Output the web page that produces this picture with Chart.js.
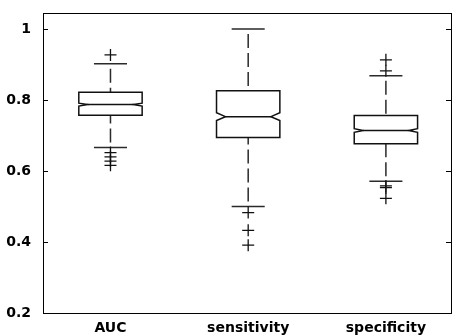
<!DOCTYPE html>
<html>
<head>
<meta charset="utf-8">
<script src="https://cdn.jsdelivr.net/npm/chart.js@4/dist/chart.umd.min.js"></script>
<style>
html,body{margin:0;padding:0;background:#fff;}
canvas{display:block;}
</style>
</head>
<body>
<canvas id="c" width="453" height="335"></canvas>
<script>
// ---- data ----
const categories = ['AUC', 'sensitivity', 'specificity'];
const q1 = [0.757, 0.694, 0.677];
const medians = [0.787, 0.753, 0.714];
const q3 = [0.822, 0.826, 0.756];
const whiskerLow = [0.666, 0.500, 0.571];
const whiskerHigh = [0.902, 1.000, 0.868];
const notchHalf = [0.004, 0.011, 0.005];
const outliersAUC = [0.927, 0.652, 0.640, 0.628, 0.616];
const outliersSensitivity = [0.483, 0.433, 0.391];
const outliersSpecificity = [0.913, 0.882, 0.558, 0.553, 0.523];
const yTicks = [0.2, 0.4, 0.6, 0.8, 1];

const outlierPoints = [];
[outliersAUC, outliersSensitivity, outliersSpecificity].forEach((arr, i) => {
  arr.forEach(v => outlierPoints.push({x: i + 1, y: v}));
});

const INK = '#111';
const BOX_W = 0.46;     // box width in category units
const CAP_W = 0.24;     // whisker cap width
const NOTCH_IN = 0.065; // notch indent in category units

const boxPlugin = {
  id: 'boxes',
  beforeDatasetsDraw(chart) {
    const {ctx} = chart;
    const xs = chart.scales.x, ys = chart.scales.y;
    ctx.save();
    for (let i = 0; i < categories.length; i++) {
      const c = i + 1;
      const xc = xs.getPixelForValue(c);
      const L = xs.getPixelForValue(c - BOX_W / 2);
      const R = xs.getPixelForValue(c + BOX_W / 2);
      const inL = xs.getPixelForValue(c - BOX_W / 2 + NOTCH_IN);
      const inR = xs.getPixelForValue(c + BOX_W / 2 - NOTCH_IN);
      const cL = xs.getPixelForValue(c - CAP_W / 2);
      const cR = xs.getPixelForValue(c + CAP_W / 2);
      const yq1 = ys.getPixelForValue(q1[i]);
      const yq3 = ys.getPixelForValue(q3[i]);
      const ym = ys.getPixelForValue(medians[i]);
      const ynH = ys.getPixelForValue(medians[i] + notchHalf[i]);
      const ynL = ys.getPixelForValue(medians[i] - notchHalf[i]);
      const ywH = ys.getPixelForValue(whiskerHigh[i]);
      const ywL = ys.getPixelForValue(whiskerLow[i]);

      ctx.strokeStyle = '#2a2a2a';
      ctx.lineWidth = 1.5;
      // whiskers (dashed)
      ctx.setLineDash([14, 5]);
      ctx.lineDashOffset = -5;
      ctx.beginPath();
      ctx.moveTo(xc, ywH); ctx.lineTo(xc, yq3);
      ctx.stroke();
      ctx.beginPath();
      ctx.moveTo(xc, ywL); ctx.lineTo(xc, yq1);
      ctx.stroke();
      ctx.setLineDash([]);
      ctx.lineDashOffset = 0;
      // caps
      ctx.beginPath();
      ctx.moveTo(cL, ywH); ctx.lineTo(cR, ywH);
      ctx.moveTo(cL, ywL); ctx.lineTo(cR, ywL);
      ctx.stroke();
      // notched box
      ctx.strokeStyle = INK;
      ctx.lineWidth = 1.5;
      ctx.beginPath();
      ctx.moveTo(L, yq3);
      ctx.lineTo(R, yq3);
      ctx.lineTo(R, ynH);
      ctx.lineTo(inR, ym);
      ctx.lineTo(R, ynL);
      ctx.lineTo(R, yq1);
      ctx.lineTo(L, yq1);
      ctx.lineTo(L, ynL);
      ctx.lineTo(inL, ym);
      ctx.lineTo(L, ynH);
      ctx.closePath();
      ctx.stroke();
      // median
      ctx.beginPath();
      ctx.moveTo(inL, ym); ctx.lineTo(inR, ym);
      ctx.stroke();
    }
    ctx.restore();
  },
  afterDraw(chart) {
    const {ctx, chartArea: a} = chart;
    const ys = chart.scales.y;
    ctx.save();
    ctx.strokeStyle = '#000';
    ctx.lineWidth = 1;
    ctx.strokeRect(Math.round(a.left) + 0.5, Math.round(a.top) + 0.5,
                   Math.round(a.right - a.left) - 1, Math.round(a.bottom - a.top));
    ctx.beginPath();
    yTicks.forEach(v => {
      const y = Math.round(ys.getPixelForValue(v)) + 0.5;
      ctx.moveTo(a.left, y); ctx.lineTo(a.left + 5, y);
      ctx.moveTo(a.right - 1, y); ctx.lineTo(a.right - 6, y);
    });
    ctx.stroke();
    ctx.restore();
  }
};

const FONT = {family: '"DejaVu Sans", sans-serif', size: 14, weight: 'bold'};

new Chart(document.getElementById('c'), {
  type: 'scatter',
  data: {
    datasets: [{
      data: outlierPoints,
      pointStyle: 'cross',
      radius: 6,
      borderColor: INK,
      backgroundColor: INK,
      borderWidth: 1.3
    }]
  },
  plugins: [boxPlugin],
  options: {
    responsive: false,
    animation: false,
    devicePixelRatio: 1,
    layout: {autoPadding: false, padding: {top: 13, right: 1, left: 0, bottom: 0}},
    plugins: {legend: {display: false}, tooltip: {enabled: false}},
    scales: {
      x: {
        type: 'linear',
        min: 0.51, max: 3.48,
        afterBuildTicks: s => { s.ticks = categories.map((_, i) => ({value: i + 1})); },
        afterFit: s => { s.height = 22; s.paddingLeft = 0; s.paddingRight = 0; },
        grid: {display: false, drawTicks: false},
        border: {display: false},
        ticks: {
          color: '#000', font: FONT, padding: 7, autoSkip: false, maxRotation: 0,
          callback: v => categories[v - 1]
        }
      },
      y: {
        type: 'linear',
        min: 0.2, max: 1.045,
        afterBuildTicks: s => { s.ticks = yTicks.map(v => ({value: v})); },
        afterFit: s => { s.width = 43; s.paddingTop = 0; s.paddingBottom = 0; },
        grid: {display: false, drawTicks: false},
        border: {display: false},
        ticks: {
          color: '#000', font: FONT, padding: 12,
          callback: v => (v === 1 ? '1' : v.toFixed(1))
        }
      }
    }
  }
});
</script>
</body>
</html>
